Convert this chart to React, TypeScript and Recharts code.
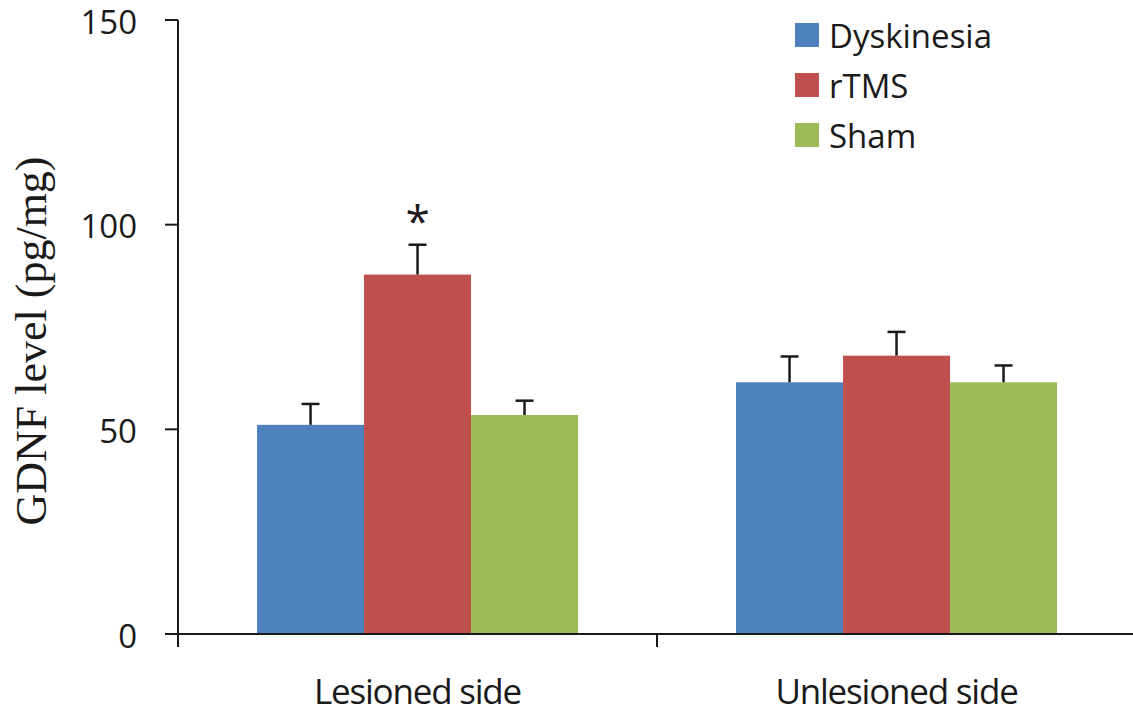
import { BarChart, Bar, XAxis, YAxis, Legend } from "recharts";

const groups = ["Lesioned side", "Unlesioned side"];
const dyskinesia = [51.1, 61.5];
const dyskinesiaErr = [5.1, 6.3];
const rtms = [87.8, 68.0];
const rtmsErr = [7.3, 5.8];
const sham = [53.5, 61.5];
const shamErr = [3.5, 4.1];
const rtmsMarks = ["*", ""];
const yTicks = [0, 50, 100, 150];

const series = [
  { key: "dyskinesia", name: "Dyskinesia", color: "#4F81BD", err: "dyskinesiaErr" },
  { key: "rtms", name: "rTMS", color: "#C0504D", err: "rtmsErr" },
  { key: "sham", name: "Sham", color: "#9BBB59", err: "shamErr" },
];

const data = groups.map((g, i) => ({
  group: g,
  dyskinesia: dyskinesia[i],
  dyskinesiaErr: dyskinesiaErr[i],
  rtms: rtms[i],
  rtmsErr: rtmsErr[i],
  sham: sham[i],
  shamErr: shamErr[i],
  mark: rtmsMarks[i],
}));

const FONT = "'Open Sans', sans-serif";
const INK = "#1a1a1a";

function makeShape(valueKey: string, errKey: string) {
  return (props: any) => {
    const { x, y, width, height, fill, payload } = props;
    const value = payload[valueKey];
    const perUnit = value ? height / value : 0;
    const errPx = payload[errKey] * perUnit;
    const cx = x + width / 2;
    const top = y - errPx;
    return (
      <g>
        <rect x={x} y={y} width={width} height={height} fill={fill} />
        <line x1={cx} y1={y} x2={cx} y2={top} stroke={INK} strokeWidth={2.5} />
        <line x1={cx - 9} y1={top} x2={cx + 9} y2={top} stroke={INK} strokeWidth={2.5} />
        {valueKey === "rtms" && payload.mark ? (
          <text x={cx} y={top - 8} textAnchor="middle" fontFamily={FONT} fontSize={44} fill={INK}>
            {payload.mark}
          </text>
        ) : null}
      </g>
    );
  };
}

function XTick(props: any) {
  const { x, y, payload, index } = props;
  const half = payload.offset ?? 0;
  return (
    <g>
      {index === 0 ? (
        <line x1={x - half} y1={y} x2={x - half} y2={y + 13} stroke={INK} strokeWidth={2} />
      ) : null}
      <line x1={x + half} y1={y} x2={x + half} y2={y + 13} stroke={INK} strokeWidth={2} />
      <text
        x={x}
        y={y + 70}
        textAnchor="middle"
        fontFamily={FONT}
        fontSize={35}
        letterSpacing={-1.2}
        fill={INK}
      >
        {payload.value}
      </text>
    </g>
  );
}

function LegendBox() {
  return (
    <div style={{ fontFamily: FONT, fontSize: 33, color: INK }}>
      {series.map((s) => (
        <div key={s.key} style={{ display: "flex", alignItems: "center", height: 50 }}>
          <span style={{ width: 24, height: 24, background: s.color, marginRight: 10, display: "inline-block" }} />
          <span>{s.name}</span>
        </div>
      ))}
    </div>
  );
}

export default function App() {
  return (
    <div style={{ position: "absolute", left: 0, top: 0, width: 1133, height: 717, overflow: "hidden", background: "#fff" }}>
      <BarChart
        width={1136}
        height={717}
        data={data}
        margin={{ top: 20, right: 0, left: 0, bottom: 0 }}
        barCategoryGap="16.5%"
        barGap={0}
      >
        <XAxis
          dataKey="group"
          height={83}
          axisLine={{ stroke: INK, strokeWidth: 2 }}
          tickLine={false}
          tickSize={0}
          tickMargin={0}
          tick={<XTick />}
          interval={0}
        />
        <YAxis
          width={178}
          domain={[0, 150]}
          ticks={yTicks}
          axisLine={{ stroke: INK, strokeWidth: 2 }}
          tickLine={{ stroke: INK, strokeWidth: 2 }}
          tickSize={13}
          tickMargin={28}
          tick={{ fontFamily: FONT, fontSize: 33, fill: INK, dy: 2 }}
          label={{
            content: () => (
              <text
                transform="translate(31, 341) rotate(-90)"
                textAnchor="middle"
                dominantBaseline="central"
                fontFamily="'Liberation Serif', 'Times New Roman', serif"
                fontSize={44}
                fill={INK}
              >
                GDNF level (pg/mg)
              </text>
            ),
          }}
        />
        <Legend
          layout="horizontal"
          verticalAlign="middle"
          align="center"
          content={<LegendBox />}
          wrapperStyle={{ left: 795, top: 10, width: 300 }}
        />
        {series.map((s) => (
          <Bar
            key={s.key}
            dataKey={s.key}
            name={s.name}
            fill={s.color}
            isAnimationActive={false}
            shape={makeShape(s.key, s.err)}
          />
        ))}
      </BarChart>
    </div>
  );
}
